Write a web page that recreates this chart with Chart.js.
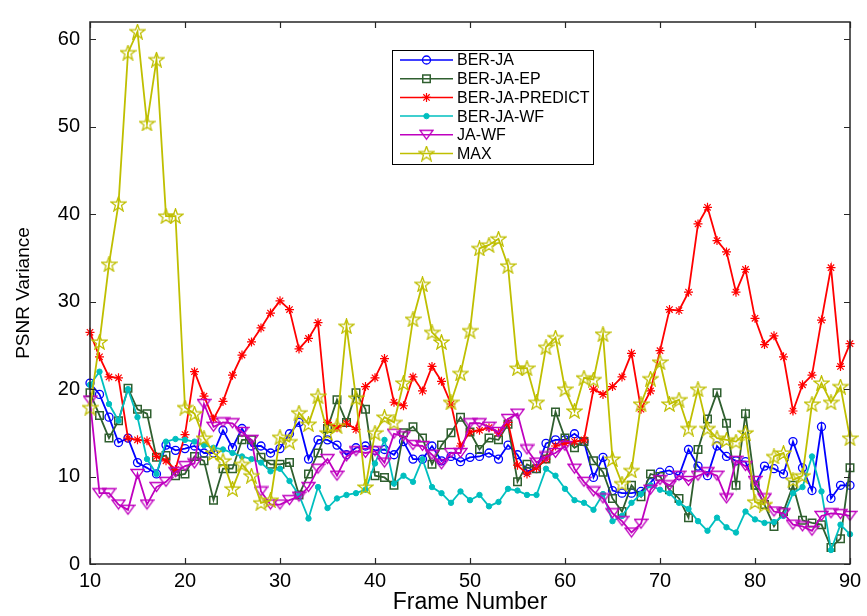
<!DOCTYPE html>
<html>
<head>
<meta charset="utf-8">
<script src="https://cdn.jsdelivr.net/npm/chart.js@4.4.1/dist/chart.umd.min.js"></script>
<style>
  html, body { margin: 0; padding: 0; background: #ffffff; }
  canvas { display: block; }
</style>
</head>
<body>
<canvas id="c" width="867" height="616"></canvas>
<script>
// Frame indices on the horizontal axis
const frames = [10,11,12,13,14,15,16,17,18,19,20,21,22,23,24,25,26,27,28,29,30,31,32,33,34,35,36,37,38,39,
  40,41,42,43,44,45,46,47,48,49,50,51,52,53,54,55,56,57,58,59,60,61,62,63,64,65,66,67,68,69,
  70,71,72,73,74,75,76,77,78,79,80,81,82,83,84,85,86,87,88,89,90];

// PSNR variance per frame, one array per method
const berJa = [20.7,19.4,16.8,13.9,14.4,11.6,11.0,10.3,13.6,13.0,
  13.2,13.5,12.7,12.7,15.3,13.3,15.5,13.5,13.5,12.7,
  13.2,14.9,16.2,12.0,14.2,14.2,13.6,12.5,13.3,13.5,
  13.0,13.1,12.5,14.0,12.0,12.0,13.5,11.8,12.3,11.7,
  12.2,12.3,12.7,12.0,13.6,12.5,10.6,10.9,13.8,14.2,
  14.2,14.9,14.0,9.9,12.2,8.4,8.1,8.1,8.3,9.3,
  10.5,10.7,10.1,13.1,11.2,10.1,13.5,12.3,11.8,11.7,
  9.0,11.2,10.9,10.3,14.0,11.0,8.4,15.7,7.5,9.0,9.0];

const berJaEp = [19.6,17.0,14.4,16.4,20.1,17.7,17.2,12.2,12.4,10.1,
  10.3,12.3,11.8,7.3,10.9,10.9,14.2,14.2,12.2,11.4,
  11.4,11.6,7.9,10.3,12.7,15.5,18.8,16.2,19.6,17.7,
  10.1,9.9,9.0,15.0,15.7,14.4,11.4,13.6,15.0,16.8,
  15.1,13.1,14.4,14.2,16.0,9.4,11.4,10.9,12.0,17.4,
  14.4,13.3,14.0,11.8,10.5,7.5,6.0,9.0,7.7,10.3,
  10.0,8.5,7.5,5.3,13.1,16.6,19.6,16.1,9.0,17.2,
  9.0,6.8,4.3,6.0,9.0,5.0,4.7,4.5,1.9,2.9,11.0];

const berJaPredict = [26.5,23.7,21.4,21.3,14.4,14.2,14.1,12.3,11.8,10.8,
  14.8,22.0,19.2,16.6,18.6,21.6,23.9,25.4,27.0,28.7,
  30.1,29.1,24.6,25.8,27.6,16.2,15.6,16.1,15.4,20.3,
  21.3,23.5,18.5,18.1,21.4,19.8,22.6,20.9,18.3,13.5,
  15.1,15.3,15.6,15.0,16.2,11.3,10.3,11.0,12.0,13.5,
  13.8,14.0,14.2,20.0,19.4,20.3,21.4,24.1,17.7,19.8,
  24.4,29.1,29.0,31.1,38.9,40.8,37.0,35.7,31.1,33.7,
  28.1,25.1,26.1,23.7,17.5,20.5,21.6,27.9,33.9,22.6,25.2];

const berJaWf = [20.5,22.0,18.3,16.4,20.0,16.8,12.0,10.3,14.0,14.3,
  14.2,14.0,13.6,13.3,13.1,12.7,12.3,12.0,11.6,10.6,
  10.9,9.5,7.9,5.2,8.8,6.4,7.5,7.9,8.1,8.5,
  11.5,14.2,9.2,10.1,9.4,12.0,8.8,8.1,7.0,8.3,
  7.3,7.9,6.6,7.1,8.6,8.4,7.9,7.9,10.9,10.1,
  8.6,7.3,7.0,6.2,8.0,4.9,5.5,7.0,8.0,9.0,
  8.5,8.1,7.0,6.3,4.9,3.8,5.3,4.2,3.6,6.0,
  5.1,4.7,4.8,5.5,8.1,8.8,12.3,8.3,1.6,4.5,3.4];

const jaWf = [18.7,8.1,8.1,6.8,6.2,10.3,6.8,8.8,9.4,10.5,
  11.2,11.5,18.3,15.7,16.2,16.1,15.1,14.2,8.3,6.8,
  6.8,7.3,7.7,8.8,10.9,12.0,10.1,12.3,12.9,12.7,
  12.9,11.6,14.9,14.6,13.6,13.5,12.5,11.4,12.7,12.7,
  16.1,16.1,15.7,15.1,16.6,17.2,13.1,11.6,12.3,12.7,
  13.5,10.9,9.4,8.3,7.5,5.8,4.9,3.6,4.6,8.5,
  9.6,9.0,10.1,9.5,10.1,10.5,10.1,7.5,11.8,11.2,
  9.5,7.5,6.0,5.8,4.5,4.3,3.8,5.5,5.8,5.7,5.5];

const maxVar = [17.9,25.4,34.3,41.2,58.5,60.9,50.4,57.7,39.8,39.8,
  17.9,17.2,14.4,12.7,11.8,8.6,11.4,10.1,7.0,7.3,
  14.5,14.0,17.3,16.0,19.2,15.0,15.8,27.2,19.0,8.8,
  15.0,16.8,16.2,20.7,28.0,32.0,26.5,25.4,18.5,21.8,
  26.7,36.1,36.5,37.2,34.1,22.4,22.4,18.5,24.8,25.9,
  20.0,17.5,21.3,21.1,26.3,12.0,9.2,10.7,18.3,21.2,
  23.1,18.3,18.8,15.5,20.0,15.5,14.4,14.2,14.0,15.0,
  7.1,6.8,12.3,12.7,9.6,10.1,18.3,20.7,18.5,20.3,14.4];

const seriesNames = ['BER-JA', 'BER-JA-EP', 'BER-JA-PREDICT', 'BER-JA-WF', 'JA-WF', 'MAX'];
const xTicks = [10, 20, 30, 40, 50, 60, 70, 80, 90];
const yTicks = [0, 10, 20, 30, 40, 50, 60];

const FONT = '"Liberation Sans", Arial, Helvetica, sans-serif';

// Outline glyphs for the pentagram and the down-pointing triangle markers
function pentagram(color) {
  const c = document.createElement('canvas');
  c.width = 17; c.height = 16;
  const g = c.getContext('2d');
  g.strokeStyle = color; g.lineWidth = 1.3;
  g.beginPath();
  for (let k = 0; k < 10; k++) {
    const r = k % 2 ? 3.2 : 7.8;
    const a = -Math.PI / 2 + k * Math.PI / 5;
    const px = 8.5 + r * Math.cos(a), py = 8.6 + r * Math.sin(a);
    if (k) g.lineTo(px, py); else g.moveTo(px, py);
  }
  g.closePath(); g.stroke();
  return c;
}
function triangleDown(color) {
  const c = document.createElement('canvas');
  c.width = 15; c.height = 12;
  const g = c.getContext('2d');
  g.strokeStyle = color; g.lineWidth = 1.3;
  g.beginPath();
  g.moveTo(1, 1.5); g.lineTo(14, 1.5); g.lineTo(7.5, 10.5); g.closePath();
  g.stroke();
  return c;
}

const styles = [
  { color: '#0000ff', pointStyle: 'circle', radius: 4, fill: 'rgba(0,0,0,0)', bw: 1.3 },
  { color: '#2f5f2f', pointStyle: 'rect', radius: 5.3, fill: 'rgba(0,0,0,0)', bw: 1.5 },
  { color: '#ff0000', pointStyle: 'star', radius: 4.5, fill: 'rgba(0,0,0,0)', bw: 1.2 },
  { color: '#00bfbf', pointStyle: 'circle', radius: 2.7, fill: '#00bfbf', bw: 1 },
  { color: '#bf00bf', pointStyle: triangleDown('#bf00bf'), radius: 6, fill: 'rgba(0,0,0,0)', bw: 1 },
  { color: '#bfbf00', pointStyle: pentagram('#bfbf00'), radius: 6, fill: 'rgba(0,0,0,0)', bw: 1 }
];

const seriesValues = [berJa, berJaEp, berJaPredict, berJaWf, jaWf, maxVar];

const datasets = seriesValues.map((vals, i) => ({
  label: seriesNames[i],
  data: frames.map((f, j) => ({ x: f, y: vals[j] })),
  borderColor: styles[i].color,
  backgroundColor: styles[i].fill,
  borderWidth: 1.8,
  pointStyle: styles[i].pointStyle,
  pointRadius: styles[i].radius,
  pointBorderColor: styles[i].color,
  pointBackgroundColor: styles[i].fill,
  pointBorderWidth: styles[i].bw,
  tension: 0,
  fill: false,
  clip: false,
  order: seriesValues.length - 1 - i
}));

// Axes box with inward tick marks on all four sides
const axesBox = {
  id: 'axesBox',
  afterDatasetsDraw(chart) {
    const { ctx, chartArea: a, scales: { x, y } } = chart;
    ctx.save();
    ctx.strokeStyle = '#262626';
    ctx.lineWidth = 1.5;
    ctx.strokeRect(a.left, a.top, a.right - a.left, a.bottom - a.top);
    ctx.lineWidth = 1.2;
    ctx.beginPath();
    const L = 6;
    x.ticks.forEach(t => {
      const px = Math.round(x.getPixelForValue(t.value)) + 0.5;
      ctx.moveTo(px, a.bottom); ctx.lineTo(px, a.bottom - L);
      ctx.moveTo(px, a.top); ctx.lineTo(px, a.top + L);
    });
    y.ticks.forEach(t => {
      const py = Math.round(y.getPixelForValue(t.value)) + 0.5;
      ctx.moveTo(a.left, py); ctx.lineTo(a.left + L, py);
      ctx.moveTo(a.right, py); ctx.lineTo(a.right - L, py);
    });
    ctx.stroke();
    ctx.restore();
  }
};

// Boxed legend inside the plot area
const legendBox = {
  id: 'legendBox',
  afterDraw(chart) {
    const ctx = chart.ctx;
    const bx = 392.5, by = 50.5, bw = 201, bh = 114;
    ctx.save();
    ctx.fillStyle = '#ffffff';
    ctx.fillRect(bx, by, bw, bh);
    ctx.strokeStyle = '#000000';
    ctx.lineWidth = 1;
    ctx.strokeRect(bx, by, bw, bh);
    ctx.font = '16px ' + FONT;
    ctx.textBaseline = 'middle';
    chart.data.datasets.forEach((ds, i) => {
      const yy = 60 + i * 18.7;
      ctx.strokeStyle = ds.borderColor;
      ctx.lineWidth = 1.5;
      ctx.beginPath(); ctx.moveTo(400, yy); ctx.lineTo(453, yy); ctx.stroke();
      ctx.fillStyle = ds.pointBackgroundColor;
      ctx.lineWidth = ds.pointBorderWidth;
      Chart.helpers.drawPoint(ctx, { pointStyle: ds.pointStyle, radius: ds.pointRadius, rotation: 0, borderWidth: ds.pointBorderWidth }, 426.5, yy);
      ctx.fillStyle = '#000000';
      ctx.fillText(ds.label, 457, yy + 1);
    });
    ctx.restore();
  }
};

new Chart(document.getElementById('c'), {
  type: 'line',
  data: { datasets },
  options: {
    responsive: false,
    animation: false,
    devicePixelRatio: 1,
    events: [],
    layout: { padding: { top: 9, right: 17, bottom: 0, left: 0 } },
    plugins: { legend: { display: false }, tooltip: { enabled: false } },
    scales: {
      x: {
        type: 'linear', min: 10, max: 90,
        afterBuildTicks: s => { s.ticks = xTicks.map(v => ({ value: v })); },
        afterFit: s => { s.height = 52; },
        grid: { display: false, drawTicks: false },
        border: { display: false },
        ticks: { color: '#000', font: { family: FONT, size: 20 }, padding: 5, maxRotation: 0, autoSkip: false },
        title: { display: true, text: 'Frame Number', color: '#000', font: { family: FONT, size: 23 }, padding: { top: 0, bottom: 0 } }
      },
      y: {
        type: 'linear', min: 0, max: 62,
        afterBuildTicks: s => { s.ticks = yTicks.map(v => ({ value: v })); },
        afterFit: s => { s.width = 90; },
        grid: { display: false, drawTicks: false },
        border: { display: false },
        ticks: { color: '#000', font: { family: FONT, size: 20 }, padding: 10, autoSkip: false },
        title: { display: true, text: 'PSNR Variance', color: '#000', font: { family: FONT, size: 19 }, padding: { top: 12, bottom: 0 } }
      }
    }
  },
  plugins: [axesBox, legendBox]
});
</script>
</body>
</html>
